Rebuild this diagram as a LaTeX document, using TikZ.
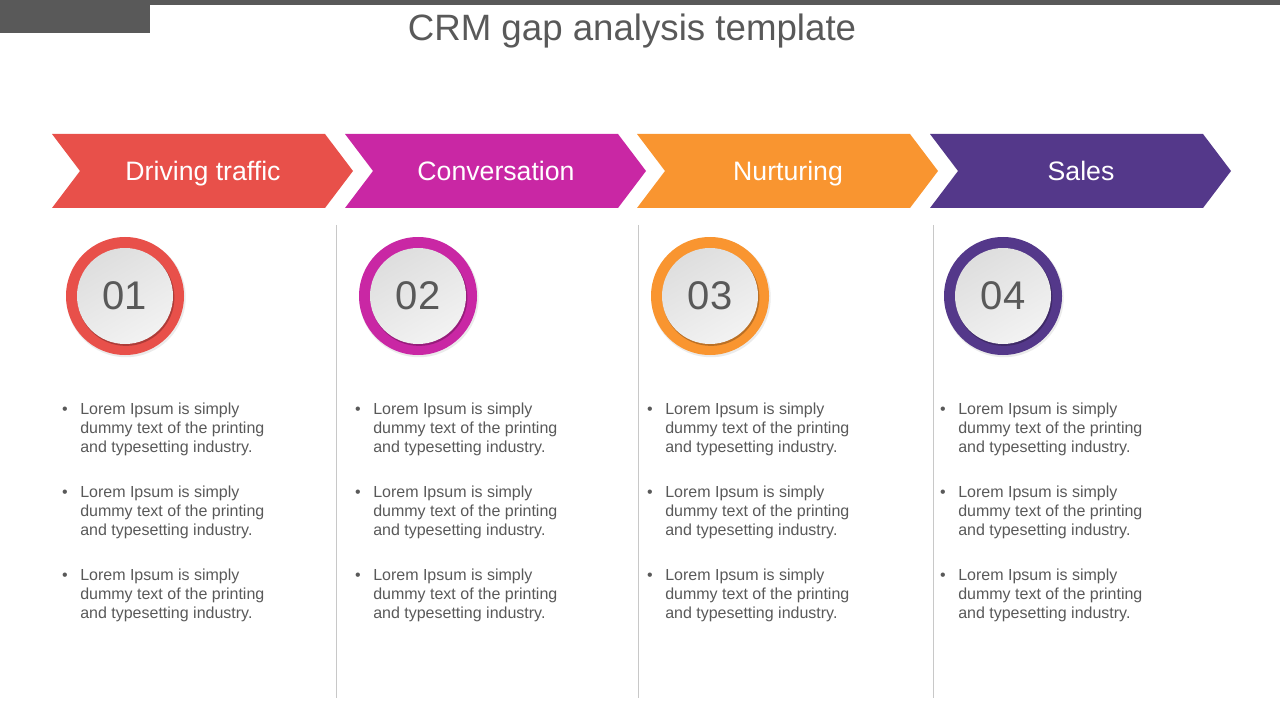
\documentclass[tikz,border=0pt]{standalone}
\usepackage{fontspec}
\setmainfont{Liberation Sans}
\usepackage{tikz}

\definecolor{bargray}{HTML}{595959}
\definecolor{txtgray}{HTML}{595959}
\definecolor{linegray}{HTML}{C8C8C8}
\definecolor{crmred}{HTML}{E8504A}
\definecolor{crmpink}{HTML}{C927A4}
\definecolor{crmorange}{HTML}{F99530}
\definecolor{crmpurple}{HTML}{54388A}

\tikzset{
  headtext/.style={anchor=base, inner sep=0, text=white, font=\fontsize{20}{22}\selectfont},
  numring/.style={circle, inner sep=0, minimum size=88.5pt},
  numdisk/.style={circle, inner sep=0, minimum size=72pt, left color=black!13, right color=black!5,
    shading angle=30, text=txtgray, font=\fontsize{30}{32}\selectfont},
  bodytext/.style={anchor=north west, inner sep=0, align=left, text=txtgray,
    font=\fontsize{12}{14.25}\selectfont},
  dottext/.style={anchor=base, inner sep=0, text=txtgray, font=\fontsize{12}{14}\selectfont},
}

\begin{document}
\begin{tikzpicture}[x=0.75pt, y=-0.75pt]
  \useasboundingbox (0,0) rectangle (1280,720);

  % top bar
  \fill[bargray] (0,0) rectangle (1280,5);
  \fill[bargray] (0,0) rectangle (150,33);

  % title
  \node[anchor=base, inner sep=0, text=txtgray, font=\fontsize{27.5}{30}\selectfont] (title) at (632,41) {CRM gap analysis template};

  % separators
  \draw[linegray, line width=0.75pt] (336,225) -- (336,698);
  \draw[linegray, line width=0.75pt] (638,225) -- (638,698);
  \draw[linegray, line width=0.75pt] (933,225) -- (933,698);

  % columns
  \foreach \i/\L/\col/\head in {1/52/crmred/Driving traffic, 2/345/crmpink/Conversation,
                                3/637/crmorange/Nurturing, 4/930/crmpurple/Sales} {
    % chevron
    \fill[\col] (\L,134) -- ({\L+273},134) -- ({\L+301},171) -- ({\L+273},208)
      -- (\L,208) -- ({\L+28},171) -- cycle;
    \node[headtext] (head\i) at ({\L+151},181) {\head};

    % number badge
    \fill[black!8] ({\L+74},297.5) circle (44.8pt);
    \node[numring, fill=\col] (ring\i) at ({\L+73},296) {};
    \fill[\col!75!black] ({\L+74},297.5) circle (36.3pt);
    \node[numdisk] (num\i) at ({\L+73},296) {0\i};

    % bullets
    \foreach \j/\y in {1/409, 2/492, 3/575} {
      \node[dottext] (dot\i\j) at ({\L+13},{\y+5.7}) {\textbullet};
      \node[bodytext] (txt\i\j) at ({\L+28},{\y-6}) {Lorem Ipsum is simply\\dummy text of the printing\\and typesetting industry.};
    }
  }

\end{tikzpicture}
\end{document}
